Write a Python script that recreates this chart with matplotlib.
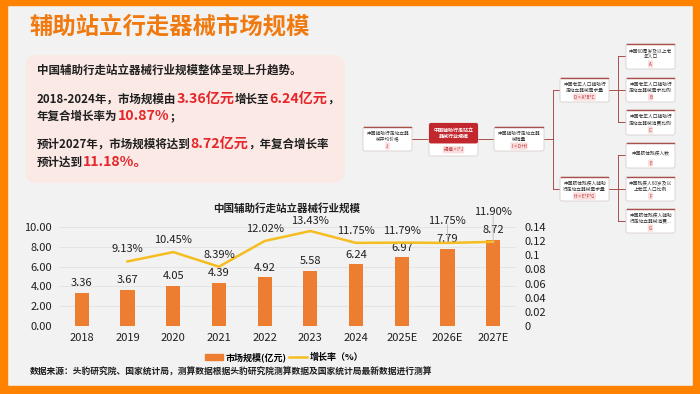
import numpy as np
import matplotlib
matplotlib.use("Agg")
import matplotlib.pyplot as plt
from matplotlib.patches import Rectangle, FancyBboxPatch
from matplotlib.lines import Line2D

plt.rcParams['font.family'] = ['Noto Sans CJK SC', 'DejaVu Sans']

# data
years = ['2018', '2019', '2020', '2021', '2022', '2023', '2024', '2025E', '2026E', '2027E']
market = [3.36, 3.67, 4.05, 4.39, 4.92, 5.58, 6.24, 6.97, 7.79, 8.72]
growth = [None, 0.0913, 0.1045, 0.0839, 0.1202, 0.1343, 0.1175, 0.1179, 0.1175, 0.1190]
growth_labels = ['', '9.13%', '10.45%', '8.39%', '12.02%', '13.43%', '11.75%', '11.79%', '11.75%', '11.90%']
left_ticks = [0, 2, 4, 6, 8, 10]
right_ticks = [0, 0.02, 0.04, 0.06, 0.08, 0.1, 0.12, 0.14]

ORANGE = '#FF8200'
BAR = '#ED7D31'
LINE = '#F5BD1F'
RED = '#E5262B'
DARK = '#1F1F1F'
BOXRED = '#C1272D'
CONN = '#A8504A'

W, H = 700, 394
fig = plt.figure(figsize=(W / 100, H / 100), dpi=100)
fig.patch.set_facecolor('#F2F2F2')

bg = fig.add_axes([0, 0, 1, 1])
bg.set_xlim(0, W)
bg.set_ylim(H, 0)
bg.axis('off')

# orange frame
bg.add_patch(Rectangle((0, 0), 7, H, color=ORANGE, zorder=1))
bg.add_patch(Rectangle((0, 0), W, 5, color=ORANGE, zorder=1))
bg.add_patch(Rectangle((693, 0), 7, H, color=ORANGE, zorder=1))
bg.add_patch(Rectangle((0, 386), W, 8, color=ORANGE, zorder=1))

bg.text(30, 27, '辅助站立行走器械市场规模', color='#F07A10', fontsize=16.8,
        fontweight='bold', va='center', ha='left')

# pink text box
bg.add_patch(FancyBboxPatch((25, 55), 320, 128, boxstyle='round,pad=0,rounding_size=12',
                            facecolor='#FBE9E6', edgecolor='none', zorder=1))

fig.canvas.draw()
renderer = fig.canvas.get_renderer()


def rich(x, y, parts):
    for s, c, fs in parts:
        t = bg.text(x, y, s, color=c, fontsize=fs, fontweight='bold', va='baseline', ha='left', zorder=3)
        x += t.get_window_extent(renderer=renderer).width


B = 8.3
R = 10.2
rich(37, 74, [('中国辅助行走站立器械行业规模整体呈现上升趋势。', DARK, B)])
rich(37, 103, [('2018-2024年，市场规模由', DARK, B), ('3.36亿元', RED, R), ('增长至', DARK, B),
               ('6.24亿元', RED, R), ('，', DARK, B)])
rich(37, 120, [('年复合增长率为', DARK, B), ('10.87%', RED, R), ('；', DARK, B)])
rich(37, 148, [('预计2027年，市场规模将达到', DARK, B), ('8.72亿元', RED, R), ('，年复合增长率', DARK, B)])
rich(37, 166, [('预计达到', DARK, B), ('11.18%。', RED, R)])

# tree diagram
def node(x0, y0, x1, y1, text, tag, header=False):
    bg.add_patch(FancyBboxPatch((x0, y0), x1 - x0, y1 - y0, boxstyle='round,pad=0,rounding_size=2',
                                facecolor='white', edgecolor='#D8CFCF', lw=0.6, zorder=3))
    if header:
        hy = y0 + (y1 - y0) * 0.62
        bg.add_patch(FancyBboxPatch((x0, y0), x1 - x0, hy - y0, boxstyle='round,pad=0,rounding_size=2',
                                    facecolor=BOXRED, edgecolor='none', zorder=4))
        bg.text((x0 + x1) / 2, (y0 + hy) / 2, text, color='white', fontsize=3.6, fontweight='bold',
                ha='center', va='center', zorder=5, linespacing=1.3)
        ty = (hy + y1) / 2
    else:
        bg.plot([x0 + 1, x1 - 1], [y0 + 0.4, y0 + 0.4], color=CONN, lw=1.0, zorder=4)
        bg.text((x0 + x1) / 2, y0 + (y1 - y0) * 0.38, text, color='#333333', fontsize=3.4,
                ha='center', va='center', zorder=5, linespacing=1.3)
        ty = y1 - 5
    bg.text((x0 + x1) / 2, ty, tag, color=BOXRED, fontsize=3.2, ha='center', va='center', zorder=6,
            bbox=dict(boxstyle='round,pad=0.25', facecolor='#F9DCDC', edgecolor='none'))


def conn(xs, ys):
    bg.plot(xs, ys, color=CONN, lw=0.7, zorder=2)


node(363, 127, 412, 151, '中国辅助行走站立器\n械平均价格', 'J')
node(429, 123, 478, 156, '中国辅助行走站立\n器械行业规模', '规模 = I*J', header=True)
node(494, 127, 544, 151, '中国辅助行走站立器\n械销量', 'I = D+H')
node(560, 78, 609, 102, '中国老年人口辅助行\n走站立器械需求量', 'D = A*B*C')
node(560, 177, 609, 201, '中国肢体残疾人辅助\n行走站立器械需求量', 'H = E*F*G')
node(626, 44, 675, 69, '中国60周岁及以上老\n年人口', 'A')
node(626, 78, 675, 102, '中国老年人口辅助行\n走站立器械需求比例', 'B')
node(626, 110, 675, 135, '中国老年人口辅助行\n走站立器械消费比例', 'C')
node(626, 143, 675, 168, '中国肢体残疾人数', 'E')
node(626, 177, 675, 201, '中国残疾人60岁及以\n上老年人口比例', 'F')
node(626, 209, 675, 233, '中国肢体残疾人辅助\n行走站立器械消费...', 'G')

conn([412, 429], [139, 139])
conn([478, 494], [139, 139])
conn([544, 553], [139, 139])
conn([553, 553], [90, 189])
conn([553, 560], [90, 90])
conn([553, 560], [189, 189])
conn([609, 618], [90, 90])
conn([618, 618], [56, 122])
for yy in (56, 90, 122):
    conn([618, 626], [yy, yy])
conn([609, 618], [189, 189])
conn([618, 618], [155, 221])
for yy in (155, 189, 221):
    conn([618, 626], [yy, yy])

# chart
x0, x1, ytop, ybot = 59, 516, 227, 326
ax = fig.add_axes([x0 / W, (H - ybot) / H, (x1 - x0) / W, (ybot - ytop) / H])
ax.set_facecolor('none')
xs = np.arange(len(years))
ax.bar(xs, market, width=0.31, color=BAR, zorder=2)
ax.set_xlim(-0.5, len(years) - 0.5)
ax.set_ylim(0, 10)
ax.set_yticks(left_ticks)
ax.set_yticklabels(['%.2f' % v for v in left_ticks])
ax.set_xticks(xs)
ax.set_xticklabels(years)
for s in ax.spines.values():
    s.set_visible(False)
ax.tick_params(length=0, labelsize=8, colors=DARK, pad=5)
ax.yaxis.grid(True, color='#E2E2E2', lw=0.6, zorder=0)
for i, v in enumerate(market):
    ax.text(i, v + 0.45, '%.2f' % v, ha='center', va='bottom', fontsize=8, color=DARK, zorder=4)

ax2 = ax.twinx()
ax2.set_ylim(0, 0.14)
ax2.set_yticks(right_ticks)
ax2.set_yticklabels(['%g' % v for v in right_ticks])
for s in ax2.spines.values():
    s.set_visible(False)
ax2.tick_params(length=0, labelsize=8, colors=DARK, pad=6)
gx = xs[1:]
gy = [g for g in growth if g is not None]
ax2.plot(gx, gy, color=LINE, lw=1.8, zorder=3)
offsets = [0, 7, 7, 7, 7, 5, 7, 7, 17, 25]
for i, g in enumerate(growth):
    if g is None:
        continue
    ax2.annotate(growth_labels[i], (i, g), xytext=(0, offsets[i]), textcoords='offset pixels',
                 ha='center', va='bottom', fontsize=8, color=DARK, annotation_clip=False)
    if offsets[i] > 12:
        ax2.annotate('', (i, g), xytext=(0, offsets[i] + 1), textcoords='offset pixels',
                     arrowprops=dict(arrowstyle='-', color='#BBBBBB', lw=0.6, shrinkA=0, shrinkB=0),
                     annotation_clip=False)

bg.text(287, 208, '中国辅助行走站立器械行业规模', ha='center', va='center', fontsize=7.6,
        fontweight='bold', color=DARK)

h1 = Rectangle((0, 0), 1, 1, color=BAR)
h2 = Line2D([0], [0], color=LINE, lw=1.8)
fig.legend([h1, h2], ['市场规模(亿元)', '增长率（%）'], loc='center', bbox_to_anchor=(284 / W, 1 - 357 / H),
           ncol=2, frameon=False, handlelength=2.0, handleheight=0.6,
           columnspacing=0.3, handletextpad=0.3, prop={'weight': 'bold', 'size': 6.5})

bg.text(30, 372, '数据来源：头豹研究院、国家统计局，测算数据根据头豹研究院测算数据及国家统计局最新数据进行测算',
        ha='left', va='center', fontsize=6.3, fontweight='bold', color=DARK)

fig.savefig('out.png', dpi=100, facecolor=fig.get_facecolor())
